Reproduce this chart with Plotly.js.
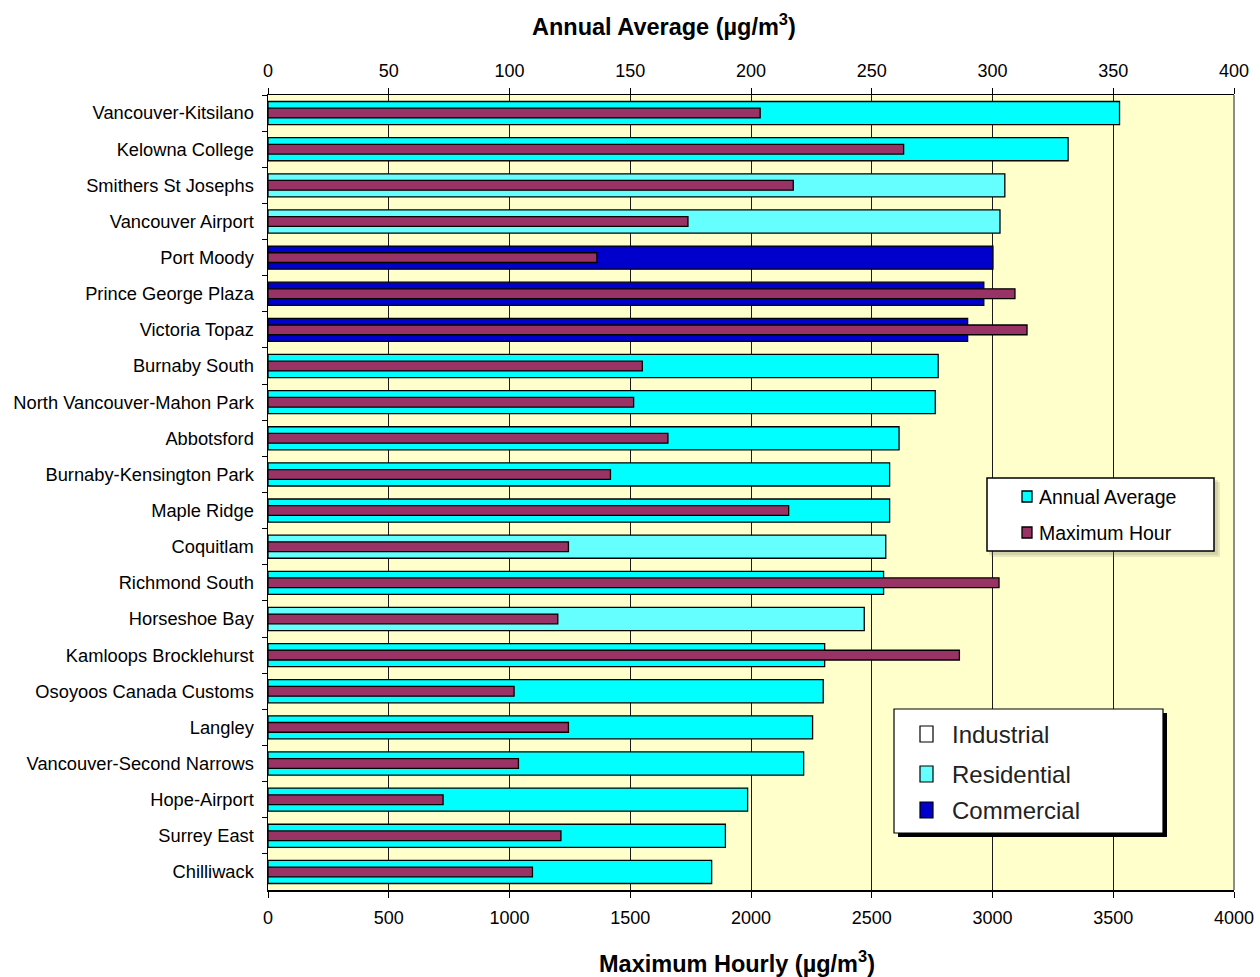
<!DOCTYPE html>
<html>
<head>
<meta charset="utf-8">
<script src="https://cdn.plot.ly/plotly-3.0.1.min.js"></script>
<style>
  html, body { margin: 0; padding: 0; background: #ffffff; }
  #chart { width: 1260px; height: 977px; }
</style>
</head>
<body>
<div id="chart"></div>
<script>
// ---- Data ----
const stations = [
  "Vancouver-Kitsilano", "Kelowna College", "Smithers St Josephs", "Vancouver Airport",
  "Port Moody", "Prince George Plaza", "Victoria Topaz", "Burnaby South",
  "North Vancouver-Mahon Park", "Abbotsford", "Burnaby-Kensington Park", "Maple Ridge",
  "Coquitlam", "Richmond South", "Horseshoe Bay", "Kamloops Brocklehurst",
  "Osoyoos Canada Customs", "Langley", "Vancouver-Second Narrows", "Hope-Airport",
  "Surrey East", "Chilliwack"
];
// Annual average (µg/m3), top axis
const annualAverage = [352.6, 331.3, 305.1, 303.1, 300.2, 296.4, 289.7, 277.5, 276.3, 261.3, 257.4,
                       257.4, 255.8, 254.9, 246.9, 230.5, 229.9, 225.5, 221.8, 198.6, 189.4, 183.7];
// Maximum hour (µg/m3), bottom axis
const maximumHour = [2038, 2632, 2175, 1739, 1362, 3093, 3143, 1550, 1514, 1656, 1418,
                     2156, 1244, 3027, 1200, 2863, 1019, 1244, 1037, 725, 1213, 1095];
// Station type shading of the annual bar
const stationType = ["default", "default", "residential", "residential", "commercial", "commercial",
                     "commercial", "default", "default", "default", "default", "default",
                     "residential", "default", "residential", "default", "default", "default",
                     "default", "default", "default", "default"];
const typeLabels = ["Industrial", "Residential", "Commercial"];
const seriesLabels = ["Annual Average", "Maximum Hour"];
const topTicks = [0, 50, 100, 150, 200, 250, 300, 350, 400];
const bottomTicks = [0, 500, 1000, 1500, 2000, 2500, 3000, 3500, 4000];

// ---- Styles ----
const typeColor = { "default": "#00FFFF", "residential": "#66FFFF", "commercial": "#0000CC", "industrial": "#FFFFFF" };
const maroon = "#993366";
const FONT = "Liberation Sans, Arial, Helvetica, sans-serif";

// plot area in pixels
const L = 268, R = 1234, T = 95, B = 890;
const W = 1260, H = 977;
const px = v => (v - L) / (R - L);
const py = v => (B - v) / (B - T);

const annualTrace = {
  type: "bar", orientation: "h",
  y: stations, x: annualAverage,
  xaxis: "x", yaxis: "y",
  width: 0.64,
  marker: { color: stationType.map(t => typeColor[t]), line: { color: "#000000", width: 1.3 } },
  name: seriesLabels[0], showlegend: false, hoverinfo: "x+y"
};
const maxTrace = {
  type: "bar", orientation: "h",
  y: stations, x: maximumHour,
  xaxis: "x2", yaxis: "y",
  width: 0.27,
  marker: { color: maroon, line: { color: "#000000", width: 1.3 } },
  name: seriesLabels[1], showlegend: false, hoverinfo: "x+y"
};

const shapes = [];
const annotations = [];

// Right border of the plot
shapes.push({ type: "line", xref: "paper", yref: "paper", x0: 1, x1: 1, y0: 0, y1: 1,
  line: { color: "#8c8c8c", width: 2 }, layer: "above" });

function rectPx(x0, y0, x1, y1, fill, lineColor, lineWidth) {
  shapes.push({ type: "rect", xref: "paper", yref: "paper",
    x0: px(x0), x1: px(x1), y0: py(y1), y1: py(y0),
    fillcolor: fill, line: { color: lineColor, width: lineWidth }, layer: "above" });
}
// Legend 1 (series) with soft shadow
rectPx(991, 482, 1220, 557, "rgba(120,120,100,0.18)", "rgba(0,0,0,0)", 0);
rectPx(989, 480, 1218, 555, "rgba(120,120,100,0.18)", "rgba(0,0,0,0)", 0);
rectPx(987, 478, 1214, 551, "#FFFFFF", "#000000", 1.5);
const leg1Colors = [typeColor["default"], maroon];
const leg1Y = [497, 533];
seriesLabels.forEach((lab, i) => {
  rectPx(1022, leg1Y[i] - 6, 1032, leg1Y[i] + 5, leg1Colors[i], "#000000", 1.3);
  annotations.push({ xref: "paper", yref: "paper", x: px(1037), y: py(leg1Y[i]),
    xanchor: "left", yanchor: "middle", showarrow: false, text: lab,
    font: { family: FONT, size: 19.5, color: "#000000" } });
});

// Legend 2 (station types) with hard shadow
rectPx(898, 713, 1167, 837, "#000000", "#000000", 0);
rectPx(894, 709, 1163, 833, "#FFFFFF", "#000000", 1.2);
const leg2Colors = [typeColor["industrial"], typeColor["residential"], typeColor["commercial"]];
const leg2Y = [734, 774, 810];
typeLabels.forEach((lab, i) => {
  rectPx(920, leg2Y[i] - 8, 933, leg2Y[i] + 8, leg2Colors[i], "#000000", 1.2);
  annotations.push({ xref: "paper", yref: "paper", x: px(950), y: py(leg2Y[i]),
    xanchor: "left", yanchor: "middle", showarrow: false, text: lab,
    font: { family: FONT, size: 24, color: "#222222" } });
});

// Axis titles
annotations.push({ xref: "paper", yref: "paper", x: px(664), y: py(25), xanchor: "center", yanchor: "middle",
  showarrow: false, text: "<b>Annual Average (µg/m<sup>3</sup>)</b>",
  font: { family: FONT, size: 23.5, color: "#000000" } });
annotations.push({ xref: "paper", yref: "paper", x: px(737), y: py(962), xanchor: "center", yanchor: "middle",
  showarrow: false, text: "<b>Maximum Hourly (µg/m<sup>3</sup>)</b>",
  font: { family: FONT, size: 23.5, color: "#000000" } });

const layout = {
  width: W, height: H,
  margin: { l: L, r: W - R, t: T, b: H - B, pad: 0 },
  paper_bgcolor: "#FFFFFF",
  plot_bgcolor: "#FFFFCC",
  barmode: "overlay",
  showlegend: false,
  font: { family: FONT, size: 18, color: "#000000" },
  xaxis: {
    side: "top", range: [0, 400], tickvals: topTicks, ticktext: topTicks.map(String),
    showgrid: true, gridcolor: "#1a1a1a", gridwidth: 1,
    showline: true, linecolor: "#000000", linewidth: 1.5,
    ticks: "outside", ticklen: 6, tickcolor: "#000000",
    tickfont: { family: FONT, size: 18, color: "#000000" },
    ticklabelstandoff: 3, zeroline: false, fixedrange: true
  },
  xaxis2: {
    overlaying: "x", side: "bottom", anchor: "y", range: [0, 4000],
    tickvals: bottomTicks, ticktext: bottomTicks.map(String),
    showgrid: false, showline: true, linecolor: "#000000", linewidth: 1.5,
    ticks: "outside", ticklen: 6, tickcolor: "#000000",
    tickfont: { family: FONT, size: 18, color: "#000000" },
    ticklabelstandoff: 5, zeroline: false, fixedrange: true
  },
  yaxis: {
    type: "category", categoryorder: "array", categoryarray: stations,
    autorange: "reversed",
    showgrid: false, showline: true, linecolor: "#000000", linewidth: 1.5,
    ticks: "outside", ticklen: 5, tickcolor: "#000000", tickson: "boundaries",
    tickfont: { family: FONT, size: 18.3, color: "#000000" },
    ticklabelstandoff: 9, zeroline: false, fixedrange: true
  },
  shapes: shapes,
  annotations: annotations
};

Plotly.newPlot("chart", [annualTrace, maxTrace], layout, { displayModeBar: false, staticPlot: true });
</script>
</body>
</html>
